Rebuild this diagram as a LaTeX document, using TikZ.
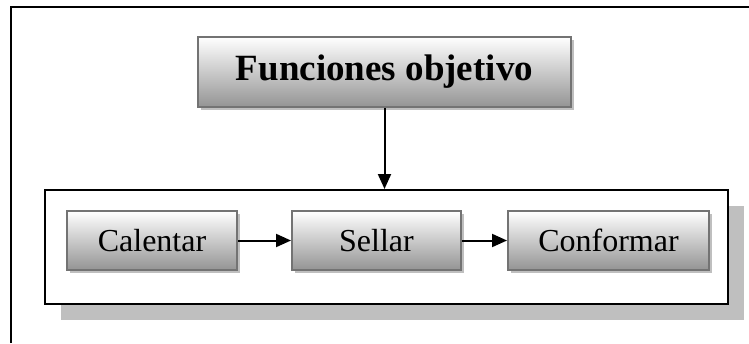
\documentclass[tikz,border=0pt]{standalone}
\usepackage{fontspec}
\setmainfont{Liberation Serif}
\usetikzlibrary{shadows,arrows.meta}

\begin{document}
\begin{tikzpicture}[x=1pt, y=-1pt,
    stage/.style={draw=black!55, line width=2pt, top color=white, bottom color=black!42,
      general shadow={fill=black!25, shadow xshift=3pt, shadow yshift=-3pt},
      minimum height=59pt, inner sep=0pt, font=\fontsize{32}{36}\selectfont},
    goal/.style={stage, minimum width=373pt, minimum height=70pt, font=\fontsize{37}{40}\selectfont\bfseries},
    group/.style={draw, line width=2pt, fill=white, minimum width=683pt, minimum height=114pt,
      general shadow={fill=black!25, shadow xshift=16pt, shadow yshift=-16pt}},
    arr/.style={draw, line width=2pt, -{Triangle[length=15pt,width=13pt]}}]
    \useasboundingbox (0,0) rectangle (749,343);
    \draw[line width=2.2pt] (11,343) -- (11,7) -- (749,7);

    \node[group] (proceso) at (386.5,247) {};
    \node[goal] (funciones) at (384.5,72) {Funciones objetivo};
    \node[stage, minimum width=170pt] (calentar) at (152,240.5) {Calentar};
    \node[stage, minimum width=169pt] (sellar) at (376.5,240.5) {Sellar};
    \node[stage, minimum width=201pt] (conformar) at (608.5,240.5) {Conformar};

    \draw[arr] (funciones) -- (funciones |- proceso.north);
    \draw[arr] (calentar) -- (sellar);
    \draw[arr] (sellar) -- (conformar);
\end{tikzpicture}
\end{document}
